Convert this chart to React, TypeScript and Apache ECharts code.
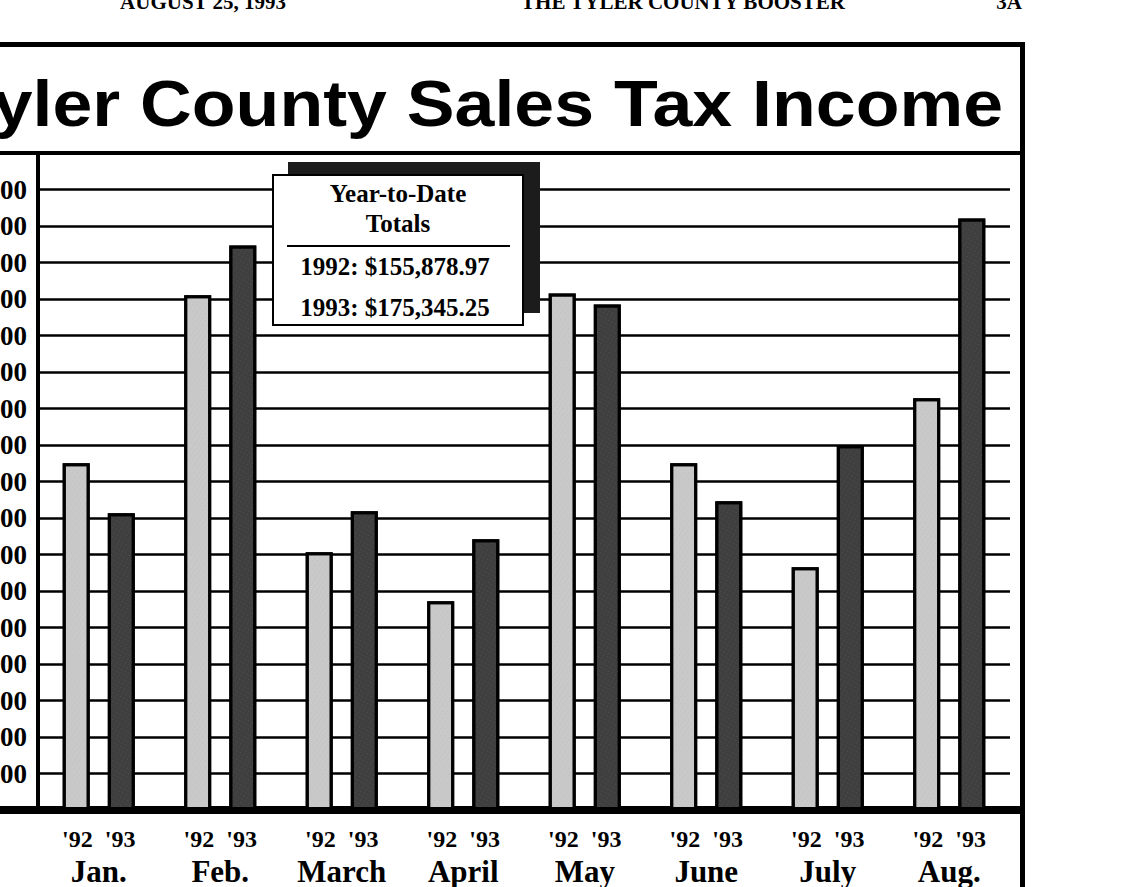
import React, { useEffect, useRef } from "react";
import * as echarts from "echarts";

const months = ["Jan.", "Feb.", "March", "April", "May", "June", "July", "Aug."];
const yearLabels = ["'92", "'93"];
const sales1992 = [19000, 28200, 14130, 11440, 28300, 19000, 13300, 22560];
const sales1993 = [16260, 30930, 16370, 14840, 27700, 16920, 19980, 32410];
const yMin = 0;
const yMax = 36000;
const yInterval = 2000;
const titleText = "Tyler County Sales Tax Income";
const headerTexts = ["AUGUST 25, 1993", "THE TYLER COUNTY BOOSTER", "3A"];
const ytdHeading = ["Year-to-Date", "Totals"];
const ytdLines = ["1992: $155,878.97", "1993: $175,345.25"];

const OFF = 60; // chart canvas extends past the left edge of the page (cropped scan)
const W = 1138 + OFF;
const H = 887;
const SERIF = "'Liberation Serif', 'Times New Roman', serif";
const SANS = "'Liberation Sans', Arial, sans-serif";

export default function App() {
  const ref = useRef<HTMLDivElement>(null);
  useEffect(() => {
    if (!ref.current) return;
    const chart = echarts.init(ref.current, undefined, { renderer: "svg" });
    const gx = (x: number) => x + OFF;
    chart.setOption({
      animation: false,
      backgroundColor: "#ffffff",
      grid: { left: gx(38), right: W - gx(1010), top: 153, bottom: H - 810, containLabel: false },
      xAxis: {
        type: "category",
        data: months,
        axisLine: { show: true, lineStyle: { color: "#000", width: 8 } },
        axisTick: { show: false },
        axisLabel: {
          margin: 14,
          interval: 0,
          formatter: (v: string) => `{yr|${yearLabels[0]}  ${yearLabels[1]}}\n{mo|${v}}`,
          rich: {
            yr: { fontFamily: SERIF, fontWeight: "bold", fontSize: 24, lineHeight: 30, color: "#000" },
            mo: { fontFamily: SERIF, fontWeight: "bold", fontSize: 31, lineHeight: 34, color: "#000" },
          },
        },
      },
      yAxis: {
        type: "value",
        min: yMin,
        max: yMax,
        interval: yInterval,
        axisLine: { show: true, lineStyle: { color: "#000", width: 4 } },
        axisTick: { show: false },
        splitLine: { show: true, lineStyle: { color: "#000", width: 2.5 } },
        axisLabel: {
          margin: 11,
          fontFamily: SERIF,
          fontWeight: "bold",
          fontSize: 27,
          color: "#000",
          formatter: (v: number) => (v === yMin || v === yMax ? "" : v.toLocaleString("en-US")),
        },
      },
      series: [
        {
          name: "1992",
          type: "bar",
          data: sales1992,
          barWidth: 27,
          barGap: "67%",
          itemStyle: {
            color: "#c9c9c9",
            borderColor: "#000",
            borderWidth: 3,
            decal: { symbol: "rect", symbolSize: 0.6, color: "rgba(0,0,0,0.18)", dashArrayX: [1, 3], dashArrayY: [1, 2], rotation: 0.6 },
          },
        },
        {
          name: "1993",
          type: "bar",
          data: sales1993,
          barWidth: 27,
          barGap: "67%",
          itemStyle: {
            color: "#3f3f3f",
            borderColor: "#000",
            borderWidth: 3,
            decal: { symbol: "rect", symbolSize: 0.6, color: "rgba(255,255,255,0.3)", dashArrayX: [1, 3], dashArrayY: [1, 3], rotation: 0.5 },
          },
        },
      ],
      graphic: [
        // header line of the newspaper page (cropped at the top)
        { type: "text", z: 100, x: gx(203), y: 12, style: { text: headerTexts[0], font: `bold 21px ${SERIF}`, fill: "#000", align: "center", verticalAlign: "bottom" } },
        { type: "text", z: 100, x: gx(683), y: 12, style: { text: headerTexts[1], font: `bold 21px ${SERIF}`, fill: "#000", align: "center", verticalAlign: "bottom" } },
        { type: "text", z: 100, x: gx(1009), y: 12, style: { text: headerTexts[2], font: `bold 21px ${SERIF}`, fill: "#000", align: "center", verticalAlign: "bottom" } },
        // frame
        { type: "rect", z: 100, shape: { x: 0, y: 42, width: gx(1025), height: 5 }, style: { fill: "#000" } },
        { type: "rect", z: 100, shape: { x: 0, y: 151, width: gx(1025), height: 4 }, style: { fill: "#000" } },
        { type: "rect", z: 100, shape: { x: gx(1020), y: 42, width: 5, height: 845 }, style: { fill: "#000" } },
        { type: "rect", z: 100, shape: { x: 0, y: 806, width: gx(40), height: 8 }, style: { fill: "#000" } },
        { type: "rect", z: 100, shape: { x: gx(1005), y: 806, width: 17, height: 8 }, style: { fill: "#000" } },
        // title
        { type: "text", z: 100, x: gx(1003), y: 103, scaleX: 1.12, style: { text: titleText, font: `bold 64px ${SANS}`, fill: "#000", align: "right", verticalAlign: "middle" } },
        // year-to-date box
        { type: "rect", z: 100, shape: { x: gx(288), y: 162, width: 252, height: 151 }, style: { fill: "#1c1c1c" } },
        { type: "rect", z: 101, shape: { x: gx(273), y: 175, width: 250, height: 150 }, style: { fill: "#fff", stroke: "#000", lineWidth: 2 } },
        { type: "text", z: 102, x: gx(398), y: 193, style: { text: ytdHeading[0], font: `bold 25px ${SERIF}`, fill: "#000", align: "center", verticalAlign: "middle" } },
        { type: "text", z: 102, x: gx(398), y: 223, style: { text: ytdHeading[1], font: `bold 25px ${SERIF}`, fill: "#000", align: "center", verticalAlign: "middle" } },
        { type: "line", z: 102, shape: { x1: gx(287), y1: 246, x2: gx(510), y2: 246 }, style: { stroke: "#000", lineWidth: 2 } },
        { type: "text", z: 102, x: gx(395), y: 266, style: { text: ytdLines[0], font: `bold 25px ${SERIF}`, fill: "#000", align: "center", verticalAlign: "middle" } },
        { type: "text", z: 102, x: gx(395), y: 307, style: { text: ytdLines[1], font: `bold 25px ${SERIF}`, fill: "#000", align: "center", verticalAlign: "middle" } },
      ],
    });
    return () => chart.dispose();
  }, []);
  return (
    <div
      ref={ref}
      style={{ position: "fixed", left: -OFF, top: 0, width: W, height: H, background: "#fff" }}
    />
  );
}
